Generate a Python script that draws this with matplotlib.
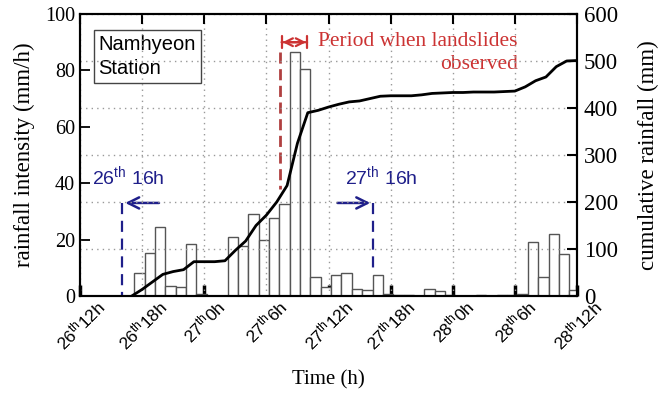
import numpy as np
import matplotlib
matplotlib.use('Agg')
import matplotlib.pyplot as plt

plt.rcParams['font.family'] = 'Liberation Serif'
plt.rcParams['mathtext.fontset'] = 'custom'
plt.rcParams['mathtext.rm'] = 'Liberation Sans'
plt.rcParams['mathtext.it'] = 'Liberation Sans'

# hourly rainfall intensity (mm/h), hour index from 26th 12h
rain_hours = np.arange(5, 48)
rain = [8.2, 15.2, 24.5, 3.5, 3.2, 18.4, 0.7, 0, 0, 21.0, 17.6, 29.0, 19.8,
        27.5, 32.6, 86.5, 80.5, 6.6, 3.3, 7.4, 8.0, 2.5, 2.0, 7.4, 0.7, 0.5,
        0.2, 0, 2.5, 1.9, 0.3, 0, 0, 0.3, 0, 0.3, 0.5, 0.8, 19.2, 6.6, 22.0,
        15.0, 2.0]

# cumulative rainfall (mm)
cum_hours = np.arange(5, 49)
cum = [0, 14, 30, 46, 52, 56, 73, 73, 73, 75, 97, 117, 150, 172, 200, 235,
       325, 390, 395, 402, 408, 413, 415, 420, 425, 426, 426, 426, 428, 431,
       432, 433, 433, 434, 434, 434, 435, 436, 445, 458, 466, 488, 500, 501]

xticks = [0, 6, 12, 18, 24, 30, 36, 42, 48]
xlabels = [r'26$^{th}$12h', r'26$^{th}$18h', r'27$^{th}$0h', r'27$^{th}$6h',
           r'27$^{th}$12h', r'27$^{th}$18h', r'28$^{th}$0h', r'28$^{th}$6h',
           r'28$^{th}$12h']

navy = '#1f1f8a'
red = '#cc3333'

fig = plt.figure(figsize=(6.59, 4.0), dpi=100)
ax1 = fig.add_axes([80/659, 104/400, 497/659, 282/400])
ax2 = ax1.twinx()

ax1.bar(rain_hours + 0.75, rain, width=1.0, color='white', edgecolor='#555555',
        linewidth=1.0, zorder=2)
ax2.plot(cum_hours, cum, color='black', lw=2.0, zorder=3)

ax1.set_xlim(0, 48)
ax1.set_ylim(0, 100)
ax2.set_ylim(0, 600)
ax1.set_yticks([0, 20, 40, 60, 80, 100])
ax2.set_yticks([0, 100, 200, 300, 400, 500, 600])
ax1.set_xticks(xticks)
ax1.set_xticklabels(xlabels, rotation=45, ha='center', va='top',
                    family='Liberation Sans', fontsize=12.5)

# top ticks and grid come from the twin
ax2.xaxis.set_visible(True)
ax2.xaxis.set_ticks_position('top')
ax2.set_xticks(xticks)
ax2.tick_params(axis='x', direction='in', length=7, width=1.5, labeltop=False)
ax2.grid(True, color='#999999', linestyle=(0, (1, 3)), lw=1.0)

for ax in (ax1, ax2):
    for s in ax.spines.values():
        s.set_linewidth(1.5)
ax1.tick_params(axis='x', direction='in', length=8, width=2.5, pad=0.5)
ax1.tick_params(axis='y', direction='in', length=7, width=1.3, labelsize=14.5)
ax2.tick_params(axis='y', direction='in', length=7, width=1.5, labelsize=16.5,
                pad=5)

ax1.set_ylabel('rainfall intensity (mm/h)', fontsize=16.5, labelpad=7)
ax2.set_ylabel('cumulative rainfall (mm)', fontsize=16.5, labelpad=14)
ax1.set_xlabel('Time (h)', fontsize=15, labelpad=12)

# station box
ax1.text(1.8, 92.5, 'Namhyeon\nStation', family='Liberation Sans', fontsize=14.5,
         va='top', ha='left', linespacing=1.35, zorder=5,
         bbox=dict(boxstyle='square,pad=0.25', fc='white', ec='#444444', lw=1.0))

# 26th 16h marker
ax1.text(1.2, 42.5, r'26$^{th}$ 16h', color=navy, fontsize=14,
         family='Liberation Sans', va='center', ha='left', zorder=5)
ax1.annotate('', xy=(4.1, 33), xytext=(7.9, 33),
             arrowprops=dict(arrowstyle='->', color=navy, lw=1.8,
                             mutation_scale=20), zorder=5)
ax1.plot([4.1, 4.1], [33, 0.5], color=navy, lw=1.6, ls=(0, (5, 3)), zorder=5)

# 27th 16h marker
ax1.text(25.6, 42.5, r'27$^{th}$ 16h', color=navy, fontsize=14,
         family='Liberation Sans', va='center', ha='left', zorder=5)
ax1.annotate('', xy=(28.3, 33), xytext=(24.6, 33),
             arrowprops=dict(arrowstyle='->', color=navy, lw=1.8,
                             mutation_scale=20), zorder=5)
ax1.plot([28.3, 28.3], [33, 10], color=navy, lw=1.6, ls=(0, (5, 3)), zorder=5)

# landslide period
ax1.plot([19.3, 19.3], [86.5, 38], color='#b04040', lw=2.0, ls=(0, (4, 2)),
         zorder=5)
ax1.annotate('', xy=(19.2, 90), xytext=(22.2, 90),
             arrowprops=dict(arrowstyle='|-|,widthA=0.45,widthB=0.45',
                             color=red, lw=1.6), zorder=5)
ax1.annotate('', xy=(19.3, 90), xytext=(22.1, 90),
             arrowprops=dict(arrowstyle='<->', color=red, lw=1.6,
                             mutation_scale=14), zorder=5)
ax1.text(42.3, 93.5, 'Period when landslides\nobserved', color=red,
         fontsize=15.5, ha='right', va='top', linespacing=1.25, zorder=5)

fig.savefig('out.png', dpi=100)
